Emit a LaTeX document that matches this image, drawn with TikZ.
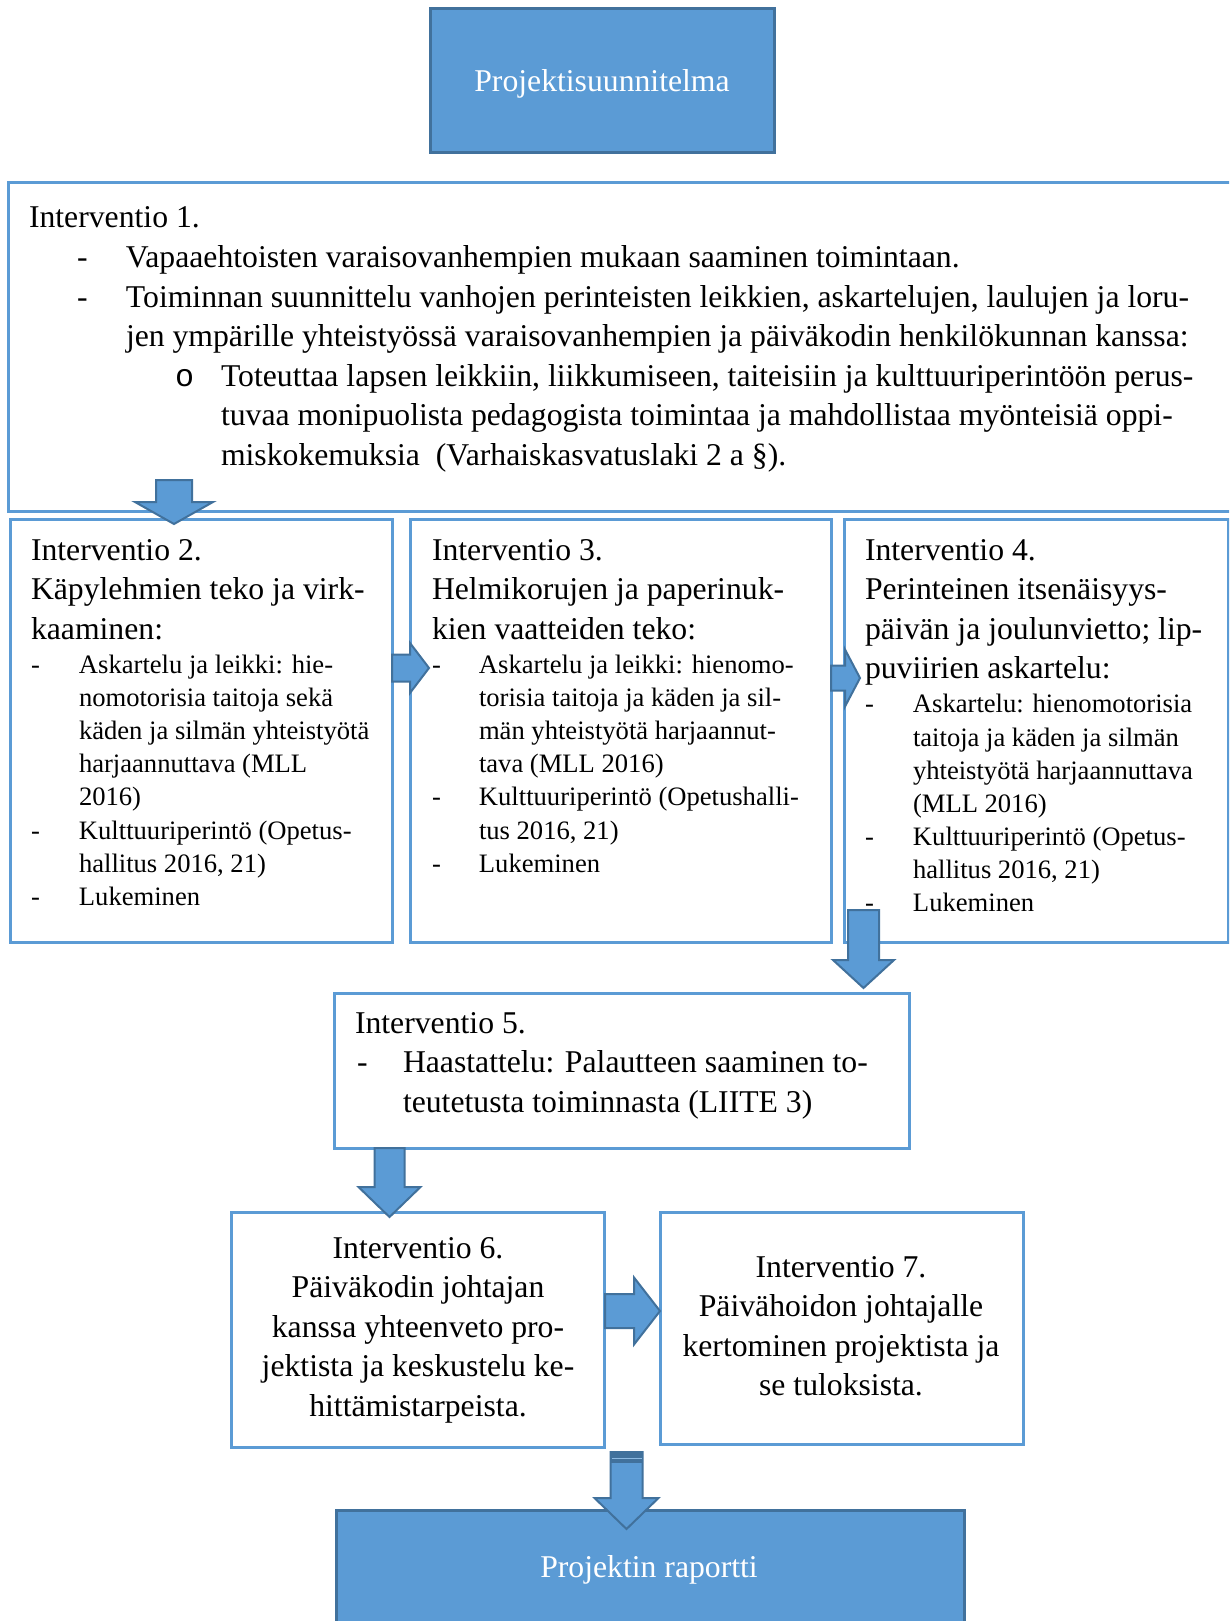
\documentclass[tikz,border=0pt]{standalone}
\usepackage{fontspec}
\setmainfont{Liberation Serif}
\newfontfamily\monofam{Liberation Mono}
\definecolor{bfill}{HTML}{5B9BD5}
\definecolor{bdark}{HTML}{41719C}
\tikzset{
  wbox/.style={draw=bfill, line width=3pt, fill=white, inner sep=0pt, outer sep=0pt},
  fbox/.style={draw=bdark, line width=3pt, fill=bfill, inner sep=0pt, outer sep=0pt},
  blockarrow/.style={draw=bdark, fill=bfill, line width=2pt, line join=miter},
  txt/.style={anchor=base west, inner sep=0pt, outer sep=0pt, text=black},
  ctxt/.style={anchor=base, inner sep=0pt, outer sep=0pt},
}
\newcommand{\LF}{\fontsize{31.7}{39.6}\selectfont}
\newcommand{\SF}{\fontsize{26.6}{33.15}\selectfont}
\newcommand{\DnArrow}[6]{% cx, top, neck, tip, halfshaft, halfhead
  \draw[blockarrow] ({#1-#5},#2) -- ({#1+#5},#2) -- ({#1+#5},#3) -- ({#1+#6},#3) -- (#1,#4) -- ({#1-#6},#3) -- ({#1-#5},#3) -- cycle;}
\newcommand{\RtArrow}[6]{% cy, left, neck, tip, halfshaft, halfhead
  \draw[blockarrow] (#2,{#1-#5}) -- (#3,{#1-#5}) -- (#3,{#1-#6}) -- (#4,#1) -- (#3,{#1+#6}) -- (#3,{#1+#5}) -- (#2,{#1+#5}) -- cycle;}
\begin{document}
\begin{tikzpicture}[x=1pt,y=-1pt]
\useasboundingbox (0,0) rectangle (1229,1621);
\clip (0,0) rectangle (1229,1621);
\fill[white] (0,0) rectangle (1229,1621);

% boxes
\node[fbox, minimum width=344pt, minimum height=144pt] (top) at (602,81) {};
\node[wbox, minimum width=1232pt, minimum height=328pt] (b1) at (624,347) {};
\node[wbox, minimum width=382pt, minimum height=423pt] (b2) at (201,730.5) {};
\node[wbox, minimum width=421pt, minimum height=423pt] (b3) at (620.5,730.5) {};
\node[wbox, minimum width=384pt, minimum height=423pt] (b4) at (1036,730.5) {};
\node[wbox, minimum width=575pt, minimum height=155pt] (b5) at (621.5,1070.5) {};
\node[wbox, minimum width=373pt, minimum height=235pt] (b6) at (417.5,1329.5) {};
\node[wbox, minimum width=363pt, minimum height=232pt] (b7) at (841.5,1328) {};
\node[fbox, minimum width=628pt, minimum height=150pt] (bot) at (650,1585) {};

% texts
\node[ctxt, text=white] (t0) at (602,92) {\LF Projektisuunnitelma};

\node[txt] (t1) at (29,228) {\vtop{\LF
  \hbox{Interventio 1.}
  \hbox{\hspace{48pt}\makebox[49pt][l]{-}Vapaaehtoisten varaisovanhempien mukaan saaminen toimintaan.}
  \hbox{\hspace{48pt}\makebox[49pt][l]{-}Toiminnan suunnittelu vanhojen perinteisten leikkien, askartelujen, laulujen ja loru-}
  \hbox{\hspace{97pt}jen ympärille yhteistyössä varaisovanhempien ja päiväkodin henkilökunnan kanssa:}
  \hbox{\hspace{146pt}\makebox[46pt][l]{\monofam o}Toteuttaa lapsen leikkiin, liikkumiseen, taiteisiin ja kulttuuriperintöön perus-}
  \hbox{\hspace{192pt}tuvaa monipuolista pedagogista toimintaa ja mahdollistaa myönteisiä oppi-}
  \hbox{\hspace{192pt}miskokemuksia\ \ (Varhaiskasvatuslaki 2 a §).}}};

\node[txt] (t2) at (31,560) {\vtop{\LF
  \hbox{Interventio 2.}
  \hbox{Käpylehmien teko ja virk-}
  \hbox{kaaminen:}
  \kern1pt\SF
  \hbox{\makebox[48pt][l]{-}Askartelu ja leikki: hie-}
  \hbox{\hspace{48pt}nomotorisia taitoja sekä}
  \hbox{\hspace{48pt}käden ja silmän yhteistyötä}
  \hbox{\hspace{48pt}harjaannuttava (MLL}
  \hbox{\hspace{48pt}2016)}
  \hbox{\makebox[48pt][l]{-}Kulttuuriperintö (Opetus-}
  \hbox{\hspace{48pt}hallitus 2016, 21)}
  \hbox{\makebox[48pt][l]{-}Lukeminen}}};

\node[txt] (t3) at (432,560) {\vtop{\LF
  \hbox{Interventio 3.}
  \hbox{Helmikorujen ja paperinuk-}
  \hbox{kien vaatteiden teko:}
  \kern1pt\SF
  \hbox{\makebox[47pt][l]{-}Askartelu ja leikki: hienomo-}
  \hbox{\hspace{47pt}torisia taitoja ja käden ja sil-}
  \hbox{\hspace{47pt}män yhteistyötä harjaannut-}
  \hbox{\hspace{47pt}tava (MLL 2016)}
  \hbox{\makebox[47pt][l]{-}Kulttuuriperintö (Opetushalli-}
  \hbox{\hspace{47pt}tus 2016, 21)}
  \hbox{\makebox[47pt][l]{-}Lukeminen}}};

\node[txt] (t4) at (865,560) {\vtop{\LF
  \hbox{Interventio 4.}
  \hbox{Perinteinen itsenäisyys-}
  \hbox{päivän ja joulunvietto; lip-}
  \hbox{puviirien askartelu:}
  \kern1pt\SF
  \hbox{\makebox[48pt][l]{-}Askartelu: hienomotorisia}
  \hbox{\hspace{48pt}taitoja ja käden ja silmän}
  \hbox{\hspace{48pt}yhteistyötä harjaannuttava}
  \hbox{\hspace{48pt}(MLL 2016)}
  \hbox{\makebox[48pt][l]{-}Kulttuuriperintö (Opetus-}
  \hbox{\hspace{48pt}hallitus 2016, 21)}
  \hbox{\makebox[48pt][l]{-}Lukeminen}}};

\node[txt] (t5) at (355,1033) {\vtop{\LF
  \hbox{Interventio 5.}
  \hbox{\hspace{2pt}\makebox[46pt][l]{-}Haastattelu: Palautteen saaminen to-}
  \hbox{\hspace{48pt}teutetusta toiminnasta (LIITE 3)}}};

\node[ctxt] (t6) at (418,1258) {\vtop{\LF
  \hbox to 370pt{\hfil Interventio 6.\hfil}
  \hbox to 370pt{\hfil Päiväkodin johtajan\hfil}
  \hbox to 370pt{\hfil kanssa yhteenveto pro-\hfil}
  \hbox to 370pt{\hfil jektista ja keskustelu ke-\hfil}
  \hbox to 370pt{\hfil hittämistarpeista.\hfil}}};

\node[ctxt] (t7) at (841,1277) {\vtop{\LF
  \hbox to 360pt{\hfil Interventio 7.\hfil}
  \hbox to 360pt{\hfil Päivähoidon johtajalle\hfil}
  \hbox to 360pt{\hfil kertominen projektista ja\hfil}
  \hbox to 360pt{\hfil se tuloksista.\hfil}}};

\node[ctxt, text=white] (t8) at (649,1577) {\LF Projektin raportti};

% block arrows
\DnArrow{174}{480}{502}{524}{18}{39}
\RtArrow{668}{392}{410}{429}{13.5}{25}
\RtArrow{678}{831}{845}{860}{12.5}{28.5}
\DnArrow{863.5}{910}{960}{988}{15.5}{30.5}
\DnArrow{389.5}{1148}{1187}{1217}{15}{31}
\RtArrow{1311}{605}{634}{660}{17}{33.5}
\DnArrow{626.5}{1452}{1498}{1529}{16}{32}
\fill[bdark] (610.5,1452) rectangle (642.5,1463);
\draw[bfill!70!white, line width=1pt] (611.5,1458) -- (641.5,1458);
\end{tikzpicture}
\end{document}
